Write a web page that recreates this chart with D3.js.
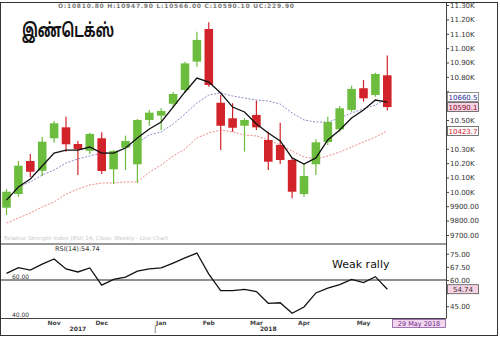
<!DOCTYPE html>
<html>
<head>
<meta charset="utf-8">
<script src="https://cdn.jsdelivr.net/npm/d3@7"></script>
<style>
  body { margin: 0; background: #fff; }
  svg { display: block; }
  text { font-family: "DejaVu Sans", sans-serif; }
</style>
</head>
<body>
<div id="chart"></div>
<script>
// weekly candles, Oct 2017 - May 2018
const dates = d3.timeMonday.range(new Date(2017, 9, 16), new Date(2018, 4, 29))

const open  = [9890, 9985, 10215, 10147, 10373, 10449, 10333, 10286, 10373, 10157, 10307, 10192, 10500, 10530, 10613, 10709, 10906, 11133, 10620, 10512, 10460, 10535, 10361, 10326, 10222, 9985, 10192, 10347, 10435, 10570, 10721, 10674, 10810.8]
const high  = [10020, 10215, 10263, 10382, 10493, 10523, 10354, 10412, 10414, 10291, 10391, 10507, 10570, 10581, 10697, 10906, 11114, 11180, 10674, 10616, 10514, 10634, 10419, 10481, 10234, 10199, 10366, 10523, 10597, 10739, 10778, 10829, 10947.9]
const low   = [9839, 9966, 10103, 10110, 10342, 10280, 10117, 10263, 10124, 10055, 10152, 10060, 10460, 10430, 10586, 10686, 10871, 10732, 10291, 10419, 10280, 10430, 10152, 10194, 9955, 9966, 10117, 10326, 10419, 10558, 10627, 10662, 10566]
const close = [10001, 10182, 10140, 10349, 10477, 10331, 10296, 10403, 10145, 10284, 10354, 10500, 10551, 10563, 10681, 10894, 11057, 10744, 10460, 10446, 10500, 10449, 10210, 10222, 10001, 10110, 10345, 10486, 10581, 10716, 10651, 10820, 10590.1]

const maFast = [9943, 10034, 10090, 10180, 10270, 10291, 10291, 10312, 10270, 10270, 10305, 10375, 10437, 10486, 10590, 10695, 10792, 10764, 10688, 10590, 10556, 10472, 10410, 10354, 10236, 10194, 10236, 10361, 10430, 10514, 10570, 10639, 10625]
const maMid  = [null, 10034, 10069, 10117, 10152, 10201, 10229, 10250, 10270, 10277, 10305, 10340, 10396, 10417, 10472, 10542, 10618, 10674, 10688, 10667, 10653, 10639, 10632, 10611, 10549, 10500, 10486, 10486, 10514, 10549, 10577, 10604, 10650]
const maSlow = [9783, 9818, 9853, 9895, 9930, 9985, 10020, 10048, 10062, 10062, 10069, 10069, 10138, 10187, 10250, 10298, 10375, 10410, 10430, 10417, 10396, 10389, 10361, 10326, 10284, 10243, 10229, 10250, 10277, 10312, 10347, 10382, 10423.7]

const rsi = [63.8, 67.1, 65.7, 69.1, 72.0, 66.3, 64.6, 66.9, 57.1, 60.3, 61.7, 65.1, 66.3, 66.9, 69.7, 72.6, 75.4, 63.4, 53.9, 53.9, 54.6, 53.4, 46.7, 47.0, 41.0, 44.6, 52.6, 55.4, 57.4, 60.3, 58.5, 61.9, 54.74]

const priceTicks = d3.range(9700, 11301, 100)
const rsiTicks = [75, 67.5, 60, 52.5, 45]
const monthLabels = ["Nov", "Dec", "Jan", "Feb", "Mar", "Apr", "May"]
const monthDates  = ["2017-11-13", "2017-12-11", "2018-01-15", "2018-02-12", "2018-03-12", "2018-04-09", "2018-05-14"]
const yearLabels = ["2017", "2018"]
const yearDates  = ["2017-11-27", "2018-03-19"]
const priceTags = [10660.5, 10590.1, 10423.7]

const W = 500, H = 338
const RIGHT = 446

const svg = d3.select("#chart").append("svg")
  .attr("width", W)
  .attr("height", H)

const parse = d3.timeParse("%Y-%m-%d")
const idxOf = s => dates.findIndex(d => +d === +parse(s))

// SCALES
const x = d3.scalePoint()
  .domain(d3.range(dates.length))
  .range([6.5, 387.3])

const y = d3.scaleLinear()
  .domain([9700, 11300])
  .range([235, 5])

const yr = d3.scaleLinear()
  .domain([40, 80])
  .range([315, 245])

const bodyW = x.step() * 0.72

// panel lines
svg.append("line").attr("x1", 0).attr("x2", RIGHT).attr("y1", 244).attr("y2", 244)
  .attr("stroke", "#999").attr("stroke-width", 2)
svg.append("line").attr("x1", 0).attr("x2", RIGHT).attr("y1", 318.5).attr("y2", 318.5)
  .attr("stroke", "#444")
svg.append("line").attr("x1", RIGHT + 0.5).attr("x2", RIGHT + 0.5).attr("y1", 3).attr("y2", 318.5)
  .attr("stroke", "#444")

// header + title
svg.append("text").attr("x", 58).attr("y", 8)
  .attr("font-size", 6).attr("font-weight", "bold").attr("fill", "#777")
  .attr("textLength", 236).attr("lengthAdjust", "spacing")
  .text("O:10810.80  H:10947.90  L:10566.00  C:10590.10  UC:229.90")

svg.append("text").attr("x", 22).attr("y", 37)
  .attr("font-size", 19).attr("font-weight", "bold").attr("fill", "#111")
  .attr("textLength", 92).attr("lengthAdjust", "spacingAndGlyphs")
  .style("font-family", "'Noto Sans Tamil', 'Lohit Tamil', 'Latha', sans-serif")
  .text("இண்டெக்ஸ்")

// ticks hidden behind a tag are not labelled
const freeOf = (tags, sc) => t => tags.every(v => Math.abs(sc(v) - sc(t)) > 6)

// RIGHT AXIS (price)
const yAxis = svg.append("g")
  .attr("transform", `translate(${RIGHT}, 0)`)
  .call(d3.axisRight(y).tickValues(priceTicks).tickSize(3)
    .tickFormat(d => !freeOf(priceTags, y)(d) ? "" : d >= 10000 ? (d / 1000).toFixed(2) + "K" : d.toFixed(2)))
yAxis.select(".domain").remove()
yAxis.selectAll("line").attr("stroke", "#444")
yAxis.selectAll("text").attr("font-size", 7).attr("fill", "#333").attr("x", 4)

// MOVING AVERAGES
const line = arr => d3.line()
  .defined(d => d != null)
  .x((d, i) => x(i))
  .y(d => y(d))(arr)

svg.append("path").attr("d", line(maSlow)).attr("fill", "none")
  .attr("stroke", "#ee8c8c").attr("stroke-width", 1).attr("stroke-dasharray", "2,1.5")
svg.append("path").attr("d", line(maMid)).attr("fill", "none")
  .attr("stroke", "#8c8cc8").attr("stroke-width", 1).attr("stroke-dasharray", "2,1.5")

// CANDLES
const candles = svg.append("g").selectAll("g")
  .data(dates.map((d, i) => ({ i, o: open[i], h: high[i], l: low[i], c: close[i] })))
  .enter().append("g")

const col = d => d.c >= d.o ? "#6cbd3e" : "#d2232a"

candles.append("line")
  .attr("x1", d => x(d.i)).attr("x2", d => x(d.i))
  .attr("y1", d => y(d.h)).attr("y2", d => y(d.l))
  .attr("stroke", col).attr("stroke-width", 1.2)

candles.append("rect")
  .attr("x", d => x(d.i) - bodyW / 2)
  .attr("width", bodyW)
  .attr("y", d => y(Math.max(d.o, d.c)))
  .attr("height", d => Math.max(1, Math.abs(y(d.o) - y(d.c))))
  .attr("fill", col)

svg.append("path").attr("d", line(maFast)).attr("fill", "none")
  .attr("stroke", "#111").attr("stroke-width", 1.3)

// price tags
const tagStyle = [
  { fill: "#fff", text: "#2a2a9a", stroke: "#777" },
  { fill: "#f6d2e2", text: "#8a0a2a", stroke: "#555" },
  { fill: "#fff", text: "#d0202a", stroke: "#555" }
]
priceTags.forEach((v, k) => {
  const g = svg.append("g").attr("transform", `translate(${RIGHT + 1}, ${y(v)})`)
  g.append("rect").attr("x", 0.5).attr("y", -4.5).attr("width", 31).attr("height", 9)
    .attr("fill", tagStyle[k].fill).attr("stroke", tagStyle[k].stroke).attr("stroke-width", 0.8)
  g.append("text").attr("x", 16).attr("y", 2.6).attr("text-anchor", "middle")
    .attr("font-size", 7).attr("fill", tagStyle[k].text).text(v.toFixed(1))
})

// LOWER PANEL (RSI)
const rsiLast = rsi[rsi.length - 1]

svg.append("text").attr("x", 4).attr("y", 240)
  .attr("font-size", 5.5).attr("fill", "#c8c8c8")
  .text("Relative Strength Index (RSI) 14, Close, Weekly - Line Chart")

svg.append("line").attr("x1", 0).attr("x2", RIGHT).attr("y1", yr(60)).attr("y2", yr(60))
  .attr("stroke", "#222").attr("stroke-width", 1)

svg.append("path")
  .attr("d", d3.line().x((d, i) => x(i)).y(d => yr(d))(rsi))
  .attr("fill", "none").attr("stroke", "#111").attr("stroke-width", 1.3)

const rAxis = svg.append("g")
  .attr("transform", `translate(${RIGHT}, 0)`)
  .call(d3.axisRight(yr).tickValues(rsiTicks).tickSize(3)
    .tickFormat(d => freeOf([rsiLast], yr)(d) ? d.toFixed(2) : ""))
rAxis.select(".domain").remove()
rAxis.selectAll("line").attr("stroke", "#444")
rAxis.selectAll("text").attr("font-size", 7).attr("fill", "#333").attr("x", 4)

svg.append("text").attr("x", 12).attr("y", yr(60) - 1.5)
  .attr("font-size", 6).attr("fill", "#333").text("60.00")
svg.append("text").attr("x", 12).attr("y", yr(40) + 2)
  .attr("font-size", 6).attr("fill", "#333").text("40.00")

svg.append("text").attr("x", 55).attr("y", 250.5)
  .attr("font-size", 6.5).attr("fill", "#333")
  .text("RSI(14):" + rsiLast.toFixed(2))

svg.append("text").attr("x", 332).attr("y", 268)
  .attr("font-size", 11).attr("fill", "#111").text("Weak rally")

const rg = svg.append("g").attr("transform", `translate(${RIGHT + 1}, ${yr(rsiLast)})`)
rg.append("rect").attr("x", 0.5).attr("y", -4.5).attr("width", 31).attr("height", 9)
  .attr("fill", "#f6d2e2").attr("stroke", "#555").attr("stroke-width", 0.8)
rg.append("text").attr("x", 16).attr("y", 2.6).attr("text-anchor", "middle")
  .attr("font-size", 7).attr("fill", "#333").text(rsiLast.toFixed(2))

// X AXIS LABELS
monthLabels.forEach((m, k) => {
  svg.append("text").attr("x", x(idxOf(monthDates[k]))).attr("y", 325)
    .attr("text-anchor", "middle").attr("font-size", 6).attr("font-weight", "bold")
    .attr("fill", "#444").text(m)
})
yearLabels.forEach((yl, k) => {
  svg.append("text").attr("x", x(idxOf(yearDates[k]))).attr("y", 331)
    .attr("text-anchor", "middle").attr("font-size", 6).attr("font-weight", "bold")
    .attr("fill", "#333").text(yl)
})
const sep = x(idxOf("2018-01-08")) + x.step() / 2
svg.append("line").attr("x1", sep).attr("x2", sep).attr("y1", 326).attr("y2", 333)
  .attr("stroke", "#888")

const lastDate = d3.timeFormat("%d %b %Y")(d3.timeDay.offset(dates[dates.length - 1], 1))
svg.append("rect").attr("x", 392.5).attr("y", 319.5).attr("width", 53).attr("height", 8)
  .attr("fill", "#f3d6f0").attr("stroke", "#8a5aa0").attr("stroke-width", 0.8)
svg.append("text").attr("x", 419).attr("y", 326).attr("text-anchor", "middle")
  .attr("font-size", 6.5).attr("fill", "#6a2a8a").text(lastDate)

// frame
svg.append("rect").attr("x", 0.5).attr("y", 2.5).attr("width", 497).attr("height", 333)
  .attr("fill", "none").attr("stroke", "#333")
</script>
</body>
</html>
